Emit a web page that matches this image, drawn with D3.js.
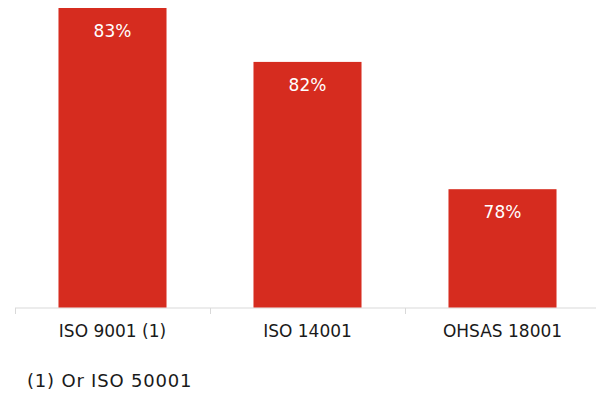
<!DOCTYPE html>
<html><head><meta charset="utf-8">
<script src="https://cdn.jsdelivr.net/npm/d3@7"></script>
<style>body{margin:0;background:#fff}svg{display:block}</style>
</head><body>
<svg id="c" width="596" height="394"></svg>
<script>
const categories = ["ISO 9001 (1)", "ISO 14001", "OHSAS 18001"];
const labels = ["83%", "82%", "78%"];
// plotted bar lengths (0–100 scale)
const values = [100, 82, 39.5];
const footnote = "(1) Or ISO 50001";

const svg = d3.select("#c");
const font = "DejaVu Sans, Verdana, sans-serif";
const x = d3.scaleBand().domain(categories).range([15, 600]).paddingInner(0.446).paddingOuter(0.223);
const y = d3.scaleLinear().domain([0, 100]).range([307.5, 8]);

svg.append("line").attr("x1", 15).attr("x2", 596).attr("y1", 308).attr("y2", 308)
  .attr("stroke", "#d9d9d9").attr("stroke-width", 1);
const step = x.step();
categories.forEach((c, i) => {
  const tx = Math.round(15 + i * step) + 0.5;
  svg.append("line").attr("x1", tx).attr("x2", tx).attr("y1", 308).attr("y2", 314)
    .attr("stroke", "#d9d9d9");
});

svg.selectAll("rect.bar").data(values).join("rect").attr("class", "bar")
  .attr("x", (d, i) => x(categories[i])).attr("width", x.bandwidth())
  .attr("y", d => y(d)).attr("height", d => y(0) - y(d))
  .attr("fill", "#d62c1f");

svg.selectAll("text.val").data(values).join("text").attr("class", "val")
  .attr("x", (d, i) => x(categories[i]) + x.bandwidth() / 2)
  .attr("y", d => y(d) + 29)
  .attr("text-anchor", "middle").attr("fill", "#fff")
  .attr("font-family", font).attr("font-size", 17)
  .text((d, i) => labels[i]);

svg.selectAll("text.cat").data(categories).join("text").attr("class", "cat")
  .attr("x", d => x(d) + x.bandwidth() / 2).attr("y", 337)
  .attr("text-anchor", "middle").attr("fill", "#1a1a1a")
  .attr("font-family", font).attr("font-size", 17)
  .text(d => d);

svg.append("text").attr("x", 27).attr("y", 387).attr("fill", "#1a1a1a")
  .attr("font-family", font).attr("font-size", 18).attr("letter-spacing", 0.8).text(footnote);
</script>
</body></html>
